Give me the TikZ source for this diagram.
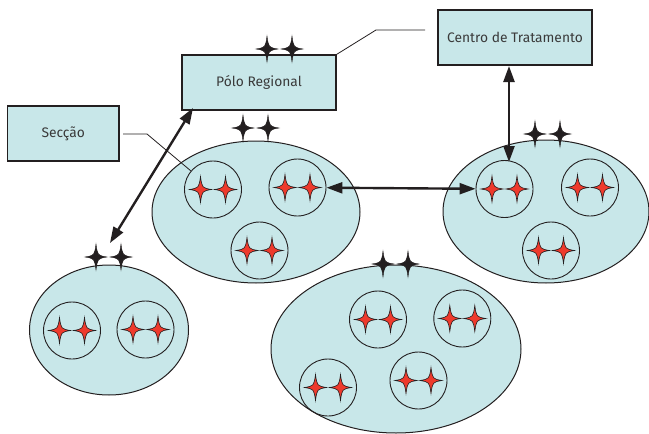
\documentclass[tikz,border=0pt]{standalone}
\usepackage{fontspec}
\setmainfont{Fira Sans}
\usetikzlibrary{shapes.geometric,arrows.meta}
\definecolor{pale}{HTML}{C8E7E9}
\definecolor{ink}{HTML}{231F20}
\definecolor{starred}{HTML}{EE3A2C}
\definecolor{txt}{HTML}{3A3A3A}
\begin{document}
\begin{tikzpicture}[x=1pt,y=-1pt,
  blob/.style={ellipse, draw=ink, fill=pale, line width=1pt, inner sep=0pt},
  group/.style={circle, draw=ink, line width=0.9pt, minimum size=57pt, inner sep=0pt},
  box/.style={rectangle, draw=ink, fill=pale, line width=1.1pt, inner sep=0pt, text=txt, font=\fontsize{13.8}{16}\selectfont},
  link/.style={line width=2.4pt, draw=ink, {Triangle[length=16pt,width=11pt]}-{Triangle[length=16pt,width=11pt]}},
  leader/.style={draw=ink, line width=0.8pt},
  sparkle/.pic={\path[pic actions] (0,-13) .. controls (1.6,-1.6) .. (11,0) .. controls (1.6,1.6) .. (0,13) .. controls (-1.6,1.6) .. (-11,0) .. controls (-1.6,-1.6) .. (0,-13) -- cycle;},
  redstar/.style={fill=starred, draw=ink, line width=0.6pt},
  blackstar/.style={fill=ink, draw=ink, line width=0.4pt}
]
\useasboundingbox (0,0) rectangle (649,434);

% boxes
\node[box, minimum width=154pt, minimum height=55pt] (pr) at (259,82.5) {Pólo Regional};
\node[box, minimum width=111.5pt, minimum height=55pt] (sec) at (63.25,133.5) {Secção};
\node[box, minimum width=154pt, minimum height=55pt] (ct) at (515,37.5) {Centro de Tratamento};

% ellipses
\node[blob, minimum width=208pt, minimum height=142pt] (e1) at (256,212) {};
\node[blob, minimum width=206pt, minimum height=143pt] (e2) at (546,211.5) {};
\node[blob, minimum width=159pt, minimum height=130pt] (e3) at (109,330) {};
\node[blob, minimum width=250pt, minimum height=168pt] (e4) at (396,349) {};

% groups
\node[group] (c11) at (213,189.5) {};
\node[group] (c12) at (297.5,187.5) {};
\node[group] (c13) at (259.5,250.5) {};
\node[group] (c21) at (504.5,189) {};
\node[group] (c22) at (590,187.5) {};
\node[group] (c23) at (551,250.5) {};
\node[group] (c31) at (72,330.5) {};
\node[group] (c32) at (145.5,329.5) {};
\node[group] (c41) at (378,319.5) {};
\node[group] (c42) at (462.3,318.5) {};
\node[group] (c43) at (418.5,380.5) {};
\node[group] (c44) at (328,387.5) {};

% red stars in groups
\foreach \c in {c11,c12,c13,c21,c22,c23,c31,c32,c41,c42,c43,c44}{
  \pic[redstar] at ([xshift=-12.5pt]\c.center) {sparkle};
  \pic[redstar] at ([xshift=12.5pt]\c.center) {sparkle};
}

% black stars
\foreach \x/\y in {267/49,292/49,243/128,268/128,535/134,560/134,96/257,121/257,383/264,408/264}{
  \pic[blackstar] at (\x,\y) {sparkle};
}

% leaders
\coordinate (l1) at (376,30);
\coordinate (l2) at (425,30);
\draw[leader] (pr.north east) -- (l1) -- (l2);
\coordinate (s1) at (123,134);
\coordinate (s2) at (147,134);
\draw[leader] (s1) -- (s2) -- (c11);

% arrows
\coordinate (p1) at (193,108);
\coordinate (p2) at (110,243);
\draw[link] (p2) -- (p1);
\draw[link] (c12) -- (c21);
\coordinate (v1) at (509,66);
\coordinate (v2) at (509,162);
\draw[link] (v1) -- (v2);
\end{tikzpicture}
\end{document}
